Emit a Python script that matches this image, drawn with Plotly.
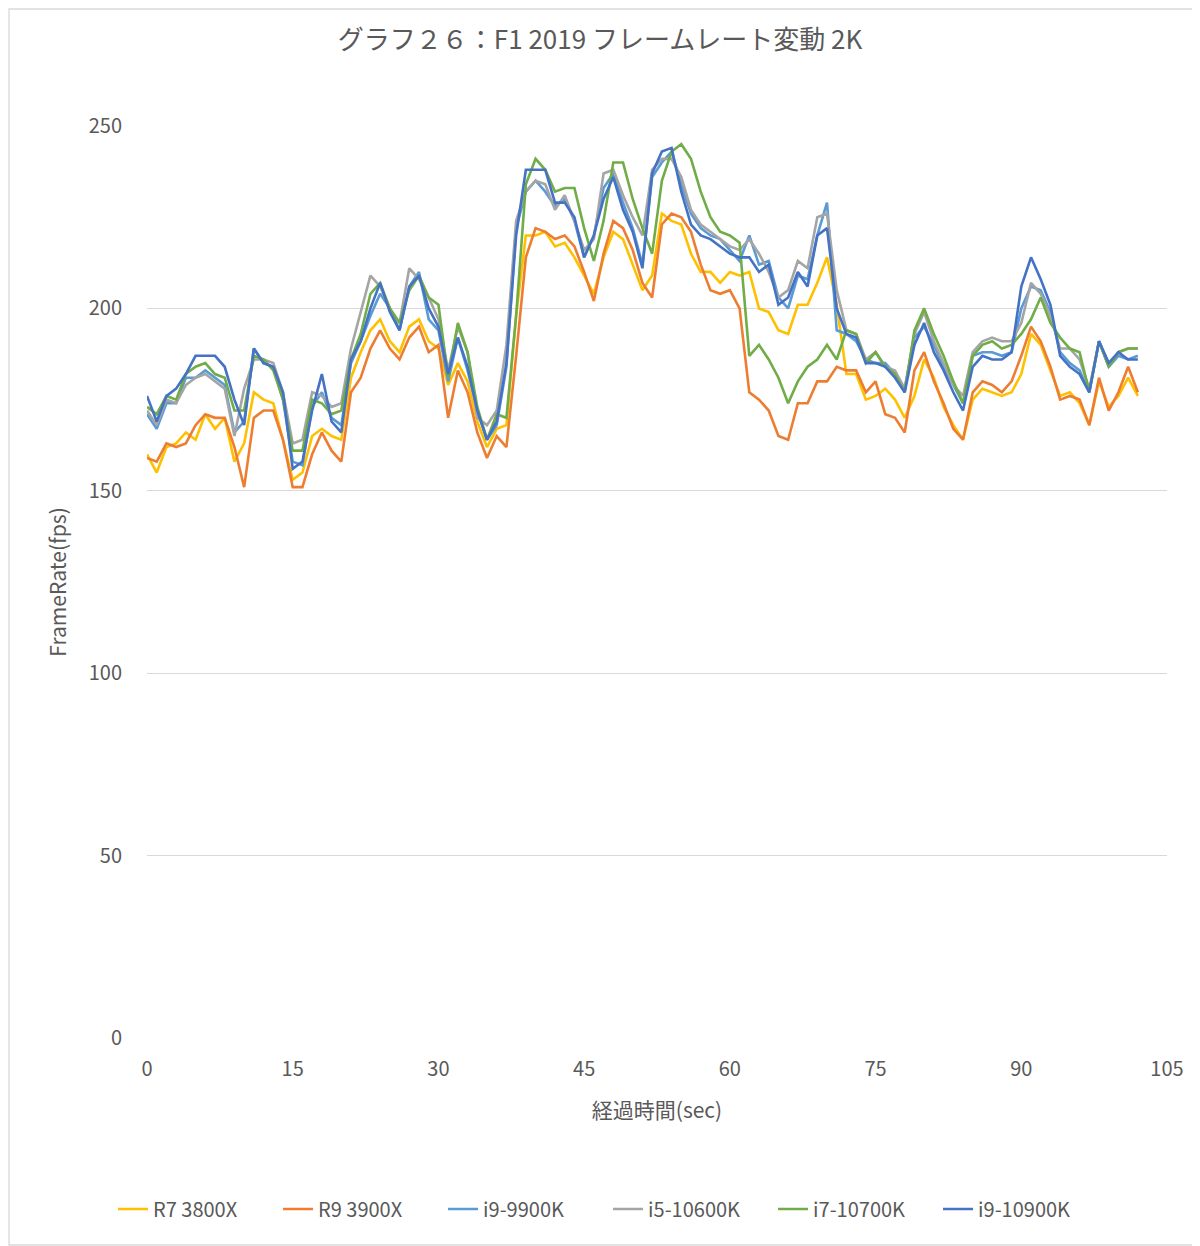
import plotly.graph_objects as go

seconds = list(range(0, 103))

r7_3800x = [160,155,162,163,166,164,171,167,170,158,
            163,177,175,174,164,153,155,165,167,165,
            164,181,188,194,197,191,188,195,197,191,
            189,179,185,180,169,162,167,168,198,220,
            220,221,217,218,214,209,204,214,221,219,
            212,205,209,226,224,223,215,210,210,207,
            210,209,210,200,199,194,193,201,201,207,
            214,201,182,182,175,176,178,175,170,176,
            186,181,173,168,164,175,178,177,176,177,
            182,193,190,183,176,177,174,168,180,173,
            176,181,176]

r9_3900x = [159,158,163,162,163,168,171,170,170,162,
            151,170,172,172,164,151,151,160,166,161,
            158,177,181,189,194,189,186,192,195,188,
            190,170,183,177,166,159,165,162,187,214,
            222,221,219,220,217,210,202,215,224,222,
            216,207,203,223,226,225,221,212,205,204,
            205,200,177,175,172,165,164,174,174,180,
            180,184,183,183,177,180,171,170,166,183,
            188,180,174,167,164,177,180,179,177,180,
            187,195,191,184,175,176,175,168,181,172,
            177,184,177]

i9_9900k = [171,167,174,174,181,181,183,181,179,166,
            169,189,185,184,175,158,157,173,177,170,
            168,185,191,198,204,200,194,206,210,197,
            194,180,192,183,172,164,168,184,222,232,
            235,232,228,230,224,214,220,233,237,229,
            222,212,236,240,243,234,226,222,220,219,
            216,213,220,212,213,203,200,209,208,220,
            229,194,193,191,186,185,185,182,178,192,
            195,190,184,179,174,187,188,188,187,188,
            200,206,205,199,188,185,183,177,191,184,
            187,186,187]

i5_10600k = [172,168,175,174,179,181,182,180,178,165,
             178,186,186,185,177,163,164,177,176,173,
             174,189,199,209,206,200,196,211,208,203,
             197,183,195,188,170,168,172,190,224,232,
             235,234,227,231,224,216,219,237,238,231,
             225,220,238,241,241,236,227,223,221,219,
             217,216,219,215,210,203,205,213,211,225,
             226,205,194,193,186,188,184,183,178,193,
             199,191,185,179,176,188,191,192,191,191,
             196,207,204,198,189,189,186,178,191,185,
             188,189,189]

i7_10700k = [173,171,176,175,182,184,185,182,181,172,
             172,187,186,183,175,161,161,175,174,171,
             172,186,193,204,207,200,196,205,209,203,
             201,181,196,188,173,164,171,170,198,234,
             241,238,232,233,233,222,213,224,240,240,
             230,222,215,235,243,245,241,232,225,221,
             220,218,187,190,186,181,174,180,184,186,
             190,186,194,193,185,188,184,182,177,194,
             200,193,187,180,174,187,190,191,189,190,
             193,197,203,196,192,189,188,177,191,184,
             188,189,189]

i9_10900k = [176,169,176,178,182,187,187,187,184,175,
             168,189,185,184,177,156,158,172,182,169,
             166,186,191,200,207,199,194,206,209,200,
             195,182,192,184,172,164,169,185,220,238,
             238,238,229,229,225,214,220,230,236,227,
             221,211,237,243,244,232,223,220,219,217,
             215,214,214,210,212,201,203,210,206,220,
             222,200,193,192,185,185,184,181,177,190,
             196,188,183,177,172,184,187,186,186,188,
             206,214,208,201,187,184,182,177,191,185,
             188,186,186]

series_names = ["R7 3800X", "R9 3900X", "i9-9900K", "i5-10600K", "i7-10700K", "i9-10900K"]
series_values = [r7_3800x, r9_3900x, i9_9900k, i5_10600k, i7_10700k, i9_10900k]
series_colors = ["#FFC000", "#ED7D31", "#5B9BD5", "#A5A5A5", "#70AD47", "#4472C4"]

x_ticks = [0, 15, 30, 45, 60, 75, 90, 105]
y_ticks = [0, 50, 100, 150, 200, 250]

FONT = "Noto Sans CJK JP, Noto Sans, sans-serif"
TXT = "#595959"

fig = go.Figure()
for name, vals, col in zip(series_names, series_values, series_colors):
    fig.add_trace(go.Scatter(x=seconds, y=vals, name=name, mode="lines",
                             line=dict(color=col, width=2.6)))

# page body has an 8px margin; size the figure so the plot lands where the reference has it
W, H = 1192, 1238
ml, mr, mt, mb = 139, 33, 118, 208
pw, ph = W - ml - mr, H - mt - mb

fig.update_layout(
    width=W, height=H,
    margin=dict(l=ml, r=mr, t=mt, b=mb),
    paper_bgcolor="white", plot_bgcolor="white",
    font=dict(family=FONT, color=TXT, size=20),
    title=dict(text="グラフ２６：F1 2019 フレームレート変動 2K",
               x=(600 - 8) / W, xanchor="center", y=1 - 32 / H, yanchor="middle",
               font=dict(size=26, color=TXT, family=FONT)),
    xaxis=dict(range=[0, 105], tickvals=x_ticks, showgrid=False, zeroline=False,
               showline=False, ticks="", ticklabelstandoff=17,
               tickfont=dict(size=20, color=TXT),
               title=dict(text="経過時間(sec)", font=dict(size=21, color=TXT), standoff=22)),
    yaxis=dict(range=[0, 250], tickvals=y_ticks, showgrid=True, gridcolor="#D9D9D9",
               gridwidth=1.3, zeroline=False, showline=False, ticks="",
               ticklabelstandoff=24, tickfont=dict(size=20, color=TXT),
               title=dict(text="FrameRate(fps)", font=dict(size=21, color=TXT), standoff=16)),
    legend=dict(orientation="h", x=0.452, xanchor="center",
                y=-(1209 - 1038) / ph, yanchor="middle",
                font=dict(size=20, color=TXT), entrywidth=120, entrywidthmode="pixels",
                bgcolor="rgba(0,0,0,0)"),
    showlegend=True,
)

fig.add_shape(type="rect", xref="paper", yref="paper",
              x0=(1 - ml) / pw, x1=(W - 1 - ml) / pw,
              y0=-(mb - 1) / ph, y1=1 + (mt - 1) / ph,
              line=dict(color="#D9D9D9", width=1.3), fillcolor="rgba(0,0,0,0)", layer="below")

fig.write_html("out.html")
